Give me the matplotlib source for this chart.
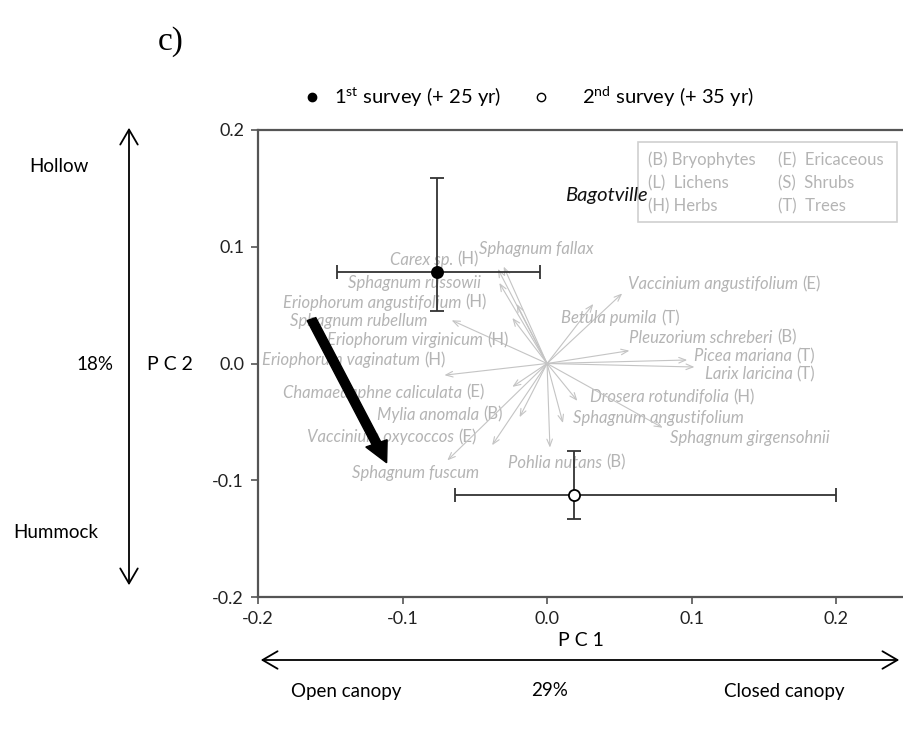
import matplotlib
matplotlib.use("Agg")
import matplotlib.pyplot as plt
from matplotlib.patches import Rectangle, FancyArrow, FancyArrowPatch

plt.rcParams['font.family'] = ['Lato', 'DejaVu Sans']
plt.rcParams['mathtext.fontset'] = 'custom'
plt.rcParams['mathtext.rm'] = 'Lato'

# ---- data ----
surveys = ["1st survey (+ 25 yr)", "2nd survey (+ 35 yr)"]
pc1_mean = [-0.076, 0.019]
pc2_mean = [0.078, -0.113]
pc1_low = [-0.145, -0.064]
pc1_high = [-0.005, 0.200]
pc2_low = [0.045, -0.133]
pc2_high = [0.159, -0.075]

species = ["Sphagnum fallax", "Carex sp.", "Sphagnum russowii", "Eriophorum angustifolium",
           "Sphagnum rubellum", "Eriophorum virginicum", "Eriophorum vaginatum",
           "Chamaedaphne caliculata", "Mylia anomala", "Vaccinium oxycoccos",
           "Sphagnum fuscum", "Pohlia nutans", "Vaccinium angustifolium", "Betula pumila",
           "Pleuzorium schreberi", "Picea mariana", "Larix laricina", "Drosera rotundifolia",
           "Sphagnum angustifolium", "Sphagnum girgensohnii"]
groups = ["", "(H)", "", "(H)", "", "(H)", "(H)", "(E)", "(B)", "(E)",
          "", "(B)", "(E)", "(T)", "(B)", "(T)", "(T)", "(H)", "", ""]
load_pc1 = [-0.030, -0.034, -0.033, -0.021, -0.066, -0.024, -0.071, -0.024, -0.019, -0.038,
            -0.069, 0.002, 0.052, 0.032, 0.057, 0.097, 0.102, 0.021, 0.011, 0.080]
load_pc2 = [0.083, 0.081, 0.069, 0.051, 0.037, 0.039, -0.010, -0.020, -0.046, -0.070,
            -0.083, -0.072, 0.060, 0.051, 0.011, 0.003, -0.003, -0.032, -0.051, -0.055]

# label anchor (left, centre) in data units
label_pc1 = [-0.047, -0.109, -0.138, -0.183, -0.178, -0.152, -0.197, -0.183, -0.118, -0.166,
             -0.135, -0.027, 0.056, 0.010, 0.057, 0.102, 0.109, 0.030, 0.018, 0.085]
label_pc2 = [0.098, 0.089, 0.069, 0.052, 0.036, 0.020, 0.003, -0.025, -0.044, -0.063,
             -0.094, -0.085, 0.068, 0.039, 0.022, 0.006, -0.009, -0.029, -0.047, -0.064]

shift_start = (-0.163, 0.038)
shift_end = (-0.111, -0.085)

key_col1 = ["(B) Bryophytes", "(L)  Lichens", "(H) Herbs"]
key_col2 = ["(E)  Ericaceous", "(S)  Shrubs", "(T)  Trees"]

xticks = [-0.2, -0.1, 0.0, 0.1, 0.2]
yticks = [-0.2, -0.1, 0.0, 0.1, 0.2]

# ---- figure ----
W, H = 904, 729
fig = plt.figure(figsize=(W / 100, H / 100), dpi=100)
ax = fig.add_axes([258 / W, 1 - 597 / H, (W - 258) / W, (597 - 130) / H])
ax.set_xlim(-0.2, 0.247)
ax.set_ylim(-0.2, 0.2)

spine_c = '#555555'
for s in ['left', 'top', 'bottom']:
    ax.spines[s].set_color(spine_c)
    ax.spines[s].set_linewidth(1.6)
ax.spines['right'].set_visible(False)
ax.set_xticks(xticks)
ax.set_yticks(yticks)
ax.set_xticklabels([f"{v:.1f}" for v in xticks])
ax.set_yticklabels([f"{v:.1f}" for v in yticks])
ax.tick_params(direction='out', length=5, width=1.2, color=spine_c, labelsize=13,
               labelcolor='#222222', pad=5)

# species loadings
gray = '#c4c4c4'
txt_gray = '#b4b4b4'
sp_fs = 12
for i, sp in enumerate(species):
    ax.annotate("", xy=(load_pc1[i], load_pc2[i]), xytext=(0, 0),
                arrowprops=dict(arrowstyle='->,head_length=0.5,head_width=0.2',
                                color=gray, lw=0.8, shrinkA=0, shrinkB=0))
    t = ax.text(label_pc1[i], label_pc2[i], sp, style='italic', color=txt_gray,
                fontsize=sp_fs, ha='left', va='center')
    if groups[i]:
        ax.annotate(groups[i], xy=(1, 0), xycoords=t, xytext=(3, 0),
                    textcoords='offset points', ha='left', va='bottom',
                    color=txt_gray, fontsize=sp_fs)

# survey means with error bars
for i in range(2):
    ax.errorbar(pc1_mean[i], pc2_mean[i],
                xerr=[[pc1_mean[i] - pc1_low[i]], [pc1_high[i] - pc1_mean[i]]],
                yerr=[[pc2_mean[i] - pc2_low[i]], [pc2_high[i] - pc2_mean[i]]],
                fmt='o', ms=8, mfc='black' if i == 0 else 'white', mec='black', mew=1.3,
                ecolor='#333333', elinewidth=1.3, capsize=5, capthick=1.3, zorder=5)

# big shift arrow
ax.add_patch(FancyArrow(shift_start[0], shift_start[1],
                        shift_end[0] - shift_start[0], shift_end[1] - shift_start[1],
                        width=0.0065, head_width=0.016, head_length=0.018,
                        length_includes_head=True, color='black', zorder=6))

ax.text(0.041, 0.1436, "Bagotville", style='italic', fontsize=14.5, ha='center', va='center',
        color='#111111')

# key box
ax.add_patch(Rectangle((0.588, 0.803), 0.401, 0.171, transform=ax.transAxes,
                       fill=False, ec='#d0d0d0', lw=1.2))
for j, (a, b) in enumerate(zip(key_col1, key_col2)):
    yy = 0.936 - j * 0.0495
    ax.text(0.604, yy, a, transform=ax.transAxes, color=txt_gray, fontsize=12, va='center')
    ax.text(0.805, yy, b, transform=ax.transAxes, color=txt_gray, fontsize=12, va='center')

# legend (top)
fig.add_artist(plt.Line2D([312 / W], [1 - 97 / H], marker='o', ms=6, mfc='black', mec='black',
                          transform=fig.transFigure))
fig.add_artist(plt.Line2D([541 / W], [1 - 97 / H], marker='o', ms=6, mfc='white', mec='black',
                          mew=1.0, transform=fig.transFigure))
fig.text(334 / W, 1 - 97 / H, r"1$^{\mathrm{st}}$ survey (+ 25 yr)", fontsize=14.5, va='center')
fig.text(582 / W, 1 - 97 / H, r"2$^{\mathrm{nd}}$ survey (+ 35 yr)", fontsize=14.5, va='center')

# panel label
fig.text(158 / W, 1 - 42 / H, "c)", family='Liberation Serif', fontsize=24, va='center',
         ha='left')

# axis labels
ax.set_xlabel("P C 1", fontsize=14, labelpad=4)
fig.text(170 / W, 1 - 364 / H, "P C 2", fontsize=14, ha='center', va='center')
fig.text(95 / W, 1 - 364 / H, "18%", fontsize=13.5, ha='center', va='center')
fig.text(59 / W, 1 - 166 / H, "Hollow", fontsize=13.5, ha='center', va='center')
fig.text(56 / W, 1 - 532 / H, "Hummock", fontsize=13.5, ha='center', va='center')

fig.add_artist(FancyArrowPatch(
    (129 / W, 1 - 125 / H), (129 / W, 1 - 588 / H), transform=fig.transFigure,
    arrowstyle='<->,head_length=0.6,head_width=0.35', mutation_scale=18,
    color='black', lw=1.3))
fig.add_artist(FancyArrowPatch(
    (258 / W, 1 - 660 / H), (902 / W, 1 - 660 / H), transform=fig.transFigure,
    arrowstyle='<->,head_length=0.6,head_width=0.35', mutation_scale=18,
    color='black', lw=1.3))
fig.text(346 / W, 1 - 691 / H, "Open canopy", fontsize=13.5, ha='center', va='center')
fig.text(550 / W, 1 - 691 / H, "29%", fontsize=13.5, ha='center', va='center')
fig.text(784 / W, 1 - 691 / H, "Closed canopy", fontsize=13.5, ha='center', va='center')

fig.savefig("out.png", dpi=100)
